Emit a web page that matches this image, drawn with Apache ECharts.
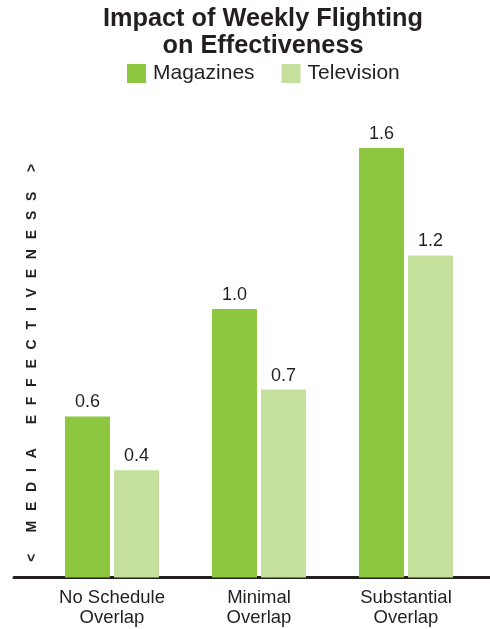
<!DOCTYPE html>
<html><head><meta charset="utf-8">
<script src="https://cdn.jsdelivr.net/npm/echarts@6/dist/echarts.min.js"></script>
<style>html,body{margin:0;padding:0;background:#fff}#c{width:490px;height:629px}</style>
</head><body><div id="c"></div>
<script>
var categories = ['No Schedule\nOverlap', 'Minimal\nOverlap', 'Substantial\nOverlap'];
var magazines = [0.6, 1.0, 1.6];
var television = [0.4, 0.7, 1.2];
var seriesNames = ['Magazines', 'Television'];
var titleText = 'Impact of Weekly Flighting\non Effectiveness';
var yName = '<\u2003\u2002M\u2002\u2009E\u2002\u2009D\u2002\u2009I\u2002\u2009A\u2003\u2002\u2009E\u2002\u2009F\u2002\u2009F\u2002\u2009E\u2002\u2009C\u2002\u2009T\u2002\u2009I\u2002\u2009V\u2002\u2009E\u2002\u2009N\u2002\u2009E\u2002\u2009S\u2002\u2009S\u2003\u2009\u2009>';

var txt = '#231f20';
var font = 'Liberation Sans, Arial, Helvetica, sans-serif';
var chart = echarts.init(document.getElementById('c'));
chart.setOption({
  animation: false,
  textStyle: {fontFamily: font},
  title: {
    text: titleText, left: 258, top: 1, textAlign: 'center',
    textStyle: {fontFamily: font, fontSize: 25.3, fontWeight: 'bold', color: txt, lineHeight: 27}
  },
  legend: {
    data: seriesNames, left: 127, top: 63, padding: 0, itemWidth: 19, itemHeight: 19, itemGap: 27, icon: 'rect',
    textStyle: {fontFamily: font, fontSize: 21, color: txt, padding: [0, 0, 0, 2]}
  },
  grid: [
    {left: 38.5, right: 10.5, top: 148, bottom: 51.5},
    {left: 14, right: 0, top: 148, bottom: 51.5}
  ],
  xAxis: [
    {type: 'category', data: categories, gridIndex: 0,
     axisLine: {show: false}, axisTick: {show: false},
     axisLabel: {fontFamily: font, fontSize: 18.5, lineHeight: 20, color: txt, margin: 10}},
    {type: 'value', gridIndex: 1, min: 0, max: 1,
     axisLine: {show: true, lineStyle: {color: txt, width: 3}},
     axisTick: {show: false}, axisLabel: {show: false}, splitLine: {show: false}}
  ],
  yAxis: [
    {type: 'value', gridIndex: 0, min: 0, max: 1.6,
     axisLine: {show: false}, axisTick: {show: false}, axisLabel: {show: false}, splitLine: {show: false},
     name: yName, nameLocation: 'middle', nameRotate: 90, nameGap: -1,
     nameTextStyle: {fontFamily: font, fontSize: 14, fontWeight: 'bold', color: txt}},
    {type: 'value', gridIndex: 1, min: 0, max: 1, show: false}
  ],
  series: [
    {name: seriesNames[0], type: 'bar', data: magazines, barWidth: 45, barGap: '9%',
     itemStyle: {color: '#8dc63f'},
     label: {show: true, position: 'top', distance: 5, fontFamily: font, fontSize: 18, color: txt,
             formatter: function(p){return p.value.toFixed(1);}}},
    {name: seriesNames[1], type: 'bar', data: television, barWidth: 45, barGap: '9%',
     itemStyle: {color: '#c5e09d'},
     label: {show: true, position: 'top', distance: 5, fontFamily: font, fontSize: 18, color: txt,
             formatter: function(p){return p.value.toFixed(1);}}}
  ]
});
</script></body></html>
